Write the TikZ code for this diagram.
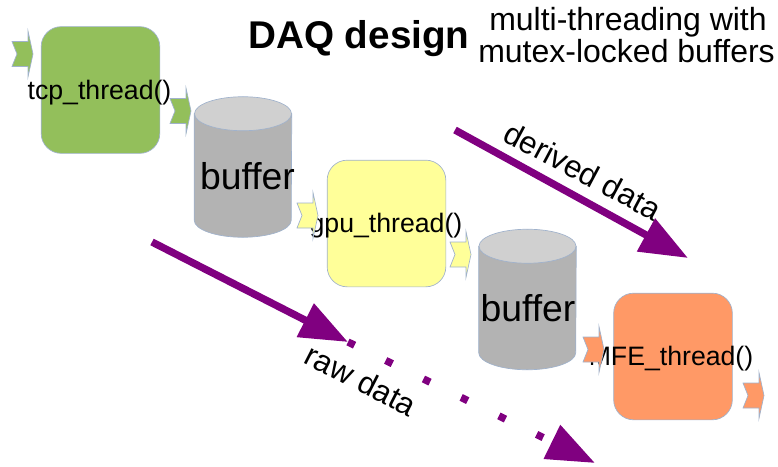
\documentclass[tikz,border=0pt]{standalone}
\usepackage{fontspec}
\setmainfont{Liberation Sans}
\usetikzlibrary{positioning,arrows.meta}
\definecolor{daqgreen}{RGB}{147,191,91}
\definecolor{daqyellow}{RGB}{255,255,153}
\definecolor{daqorange}{RGB}{255,153,102}
\definecolor{daqpurple}{RGB}{128,0,128}
\definecolor{daqedge}{RGB}{160,178,204}
\definecolor{daqgrey}{RGB}{179,179,179}
\definecolor{daqtop}{RGB}{208,208,208}
\tikzset{
  daqbox/.style={draw=daqedge, line width=0.5pt, rounded corners=15pt,
    minimum width=89pt, minimum height=95pt, inner sep=0pt},
  daqbuf/.style={minimum width=72.75pt, minimum height=105pt, inner sep=0pt},
  daqarrow/.style={draw=daqpurple, line width=5.5pt, -{Triangle[length=36pt,width=27pt]}},
  daqlabel/.style={font=\fontsize{20}{22}\selectfont, inner sep=0pt},
  daqflow/.style={font=\fontsize{23.5}{25}\selectfont, inner sep=0pt},
  daqchev/.pic={\path[pic actions] (0,-12.5) -- (16,-12.5) -- (16,-23) -- (21,0)
    -- (16,23) -- (16,12.5) -- (0,12.5) -- (5,0) -- cycle;},
}

\begin{document}
\begin{tikzpicture}[x=0.75pt, y=-0.75pt]
  \useasboundingbox (0,0) rectangle (778,467);
  % threads and buffers
  \node[daqbox, fill=daqgreen] (tcp) at (100.5,90) {};
  \node[daqbuf] (buf1) at (243,167) {};
  \node[daqbox, fill=daqyellow] (gpu) at (386.5,223.5) {};
  \node[daqbuf] (buf2) at (527.5,299.5) {};
  \node[daqbox, fill=daqorange] (mfe) at (673,356.5) {};
  \foreach \b in {buf1,buf2} {
    \draw[draw=daqedge, line width=0.5pt, fill=daqgrey]
      ([yshift=-12.75pt]\b.north west) -- ([yshift=12.75pt]\b.south west)
      arc[start angle=180, end angle=360, x radius=36.375pt, y radius=12.75pt]
      -- ([yshift=-12.75pt]\b.north east) -- cycle;
    \draw[draw=daqedge, line width=0.5pt, fill=daqtop]
      ([yshift=-12.75pt]\b.north) ellipse[x radius=36.375pt, y radius=12.75pt];
  }
  \node[daqlabel] (tcplbl) at (99.5,93) {tcp\_thread()};
  \node[daqlabel] (gpulbl) at (386,226) {gpu\_thread()};
  \node[daqlabel] (mfelbl) at (671,359) {MFE\_thread()};
  \node[font=\fontsize{28}{30}\selectfont, inner sep=0pt] (buf1lbl) at (247.5,176) {buffer};
  \node[font=\fontsize{28}{30}\selectfont, inner sep=0pt] (buf2lbl) at (528,308) {buffer};
  % in/out chevrons
  \foreach \px/\py/\col in {12/54/daqgreen, 170/111/daqgreen, 297/215.5/daqyellow,
      450/254.5/daqyellow, 583/349.5/daqorange, 743/395.5/daqorange}
    \pic[fill=\col, draw=daqedge, line width=0.5pt] at (\px,\py) {daqchev};
  % data flow
  \coordinate (derA) at (455,130);
  \coordinate (derB) at (688,258);
  \coordinate (rawA) at (152,242);
  \coordinate (rawB) at (348,342);
  \coordinate (rawC) at (595,463);
  \draw[daqarrow] (derA) -- (derB);
  \draw[daqarrow] (rawA) -- (rawB);
  \draw[daqarrow, dash pattern=on 5.5pt off 26pt] (rawB) -- (rawC);
  \node[daqflow, rotate=-28] (derlbl) at (583,171) {derived data};
  \node[daqflow, rotate=-27] (rawlbl) at (361,380) {raw data};
  % title
  \node[font=\fontsize{29}{31}\selectfont\bfseries, anchor=base west, inner sep=0pt] (title) at (248,49) {DAQ design};
  \node[font=\fontsize{24}{24}\selectfont, anchor=base, inner sep=0pt] (subA) at (628,31) {multi-threading with};
  \node[font=\fontsize{24}{24}\selectfont, anchor=base, inner sep=0pt] (subB) at (626.5,63) {mutex-locked buffers};
\end{tikzpicture}
\end{document}
